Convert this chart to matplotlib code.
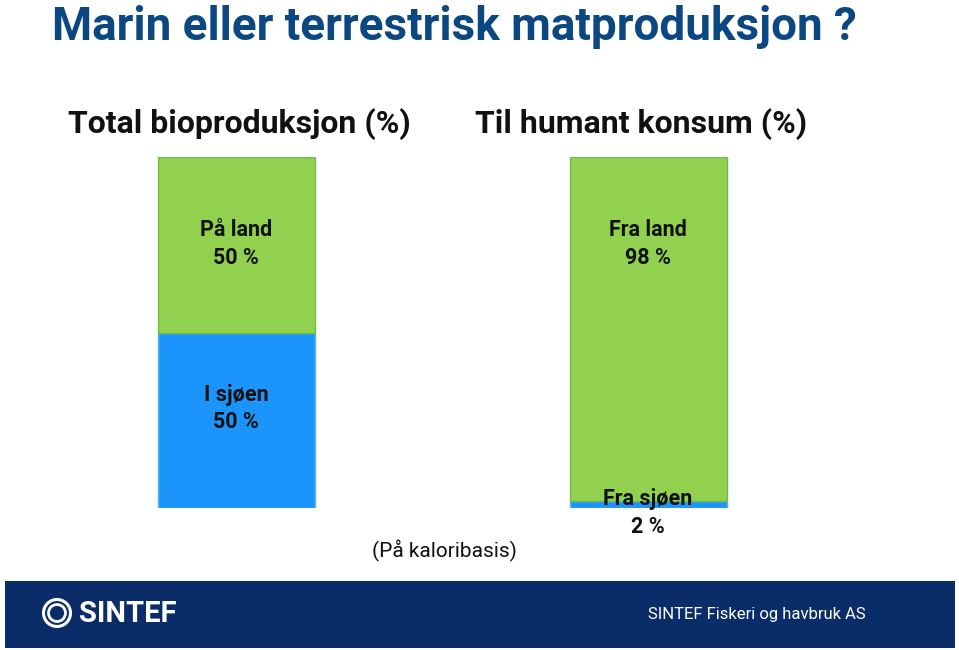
import matplotlib
matplotlib.use("Agg")
import matplotlib.pyplot as plt
from matplotlib.patches import Rectangle, Circle

# Data
categories = ["Total bioproduksjon", "Til humant konsum"]
sea_values = [50, 2]
land_values = [50, 98]
sea_labels = ["I sjøen", "Fra sjøen"]
land_labels = ["På land", "Fra land"]

W, H = 959, 650
fig = plt.figure(figsize=(W / 100, H / 100), dpi=100)
fig.patch.set_facecolor("white")

def fx(px):
    return px / W

def fy(py):
    return 1 - py / H

green = "#92d050"
blue = "#1b94fb"
title_col = "#0b4780"
FONT = ["Roboto", "DejaVu Sans"]
TXT = "#111111"

# Bar axes spanning pixel x 100..800, y 157..508
ax = fig.add_axes([fx(100), fy(508), fx(700), (508 - 157) / H], zorder=1)
ax.set_ylim(0, 100)
ax.set_xlim(-(236.5 - 100) / 412, (800 - 236.5) / 412)
ax.axis("off")

x = [0, 1]
width = 157 / 412
ax.bar(x, sea_values, width=width, color=blue, edgecolor="#5fb3f5", linewidth=1.0)
ax.bar(x, land_values, width=width, bottom=sea_values, color=green,
       edgecolor="#6cbf4a", linewidth=1.0)

# Overlay in pixel coordinates (texts, footer, logo) on top
ov = fig.add_axes([0, 0, 1, 1], zorder=2)
ov.set_xlim(0, W)
ov.set_ylim(H, 0)
ov.axis("off")
ov.patch.set_alpha(0)
ov.add_patch(Rectangle((5, 581), 950, 67, facecolor="#0a2d69", edgecolor="none"))
ov.add_patch(Circle((57, 613), 13.5, facecolor="none", edgecolor="white", linewidth=2.2))
ov.add_patch(Circle((57, 613), 8.5, facecolor="none", edgecolor="white", linewidth=2.0))
ov.text(79, 614, "SINTEF", ha="left", va="center", fontsize=21,
        fontweight="bold", family=FONT, color="white")
ov.text(866, 615, "SINTEF Fiskeri og havbruk AS", ha="right", va="center",
        fontsize=12, family=FONT, color="white")

def ptext(px, py, s, **kw):
    ov.text(px, py, s, ha="center", va="center", family=FONT, color=TXT, **kw)

# labels in bars (pixel positions)
ptext(236, 230, land_labels[0], fontsize=15.5, fontweight="bold")
ptext(236, 258, f"{land_values[0]} %", fontsize=15.5, fontweight="bold")
ptext(236, 395, sea_labels[0], fontsize=15.5, fontweight="bold")
ptext(236, 422, f"{sea_values[0]} %", fontsize=15.5, fontweight="bold")
ptext(648, 230, land_labels[1], fontsize=15.5, fontweight="bold")
ptext(648, 258, f"{land_values[1]} %", fontsize=15.5, fontweight="bold")
ptext(648, 499, sea_labels[1], fontsize=15.5, fontweight="bold")
ptext(648, 527, f"{sea_values[1]} %", fontsize=15.5, fontweight="bold")

# Title
ov.text(52, 27, "Marin eller terrestrisk matproduksjon ?", ha="left", va="center",
        fontsize=33, fontweight="bold", family=FONT, color=title_col)

# Column headers
ov.text(239, 124, categories[0] + " (%)", ha="center", va="center",
        fontsize=23, fontweight="bold", family=FONT, color=TXT)
ov.text(641, 124, categories[1] + " (%)", ha="center", va="center",
        fontsize=23, fontweight="bold", family=FONT, color=TXT)

ov.text(444, 551, "(På kaloribasis)", ha="center", va="center",
        fontsize=15, family=FONT, color=TXT)

fig.savefig("out.png", dpi=100)
